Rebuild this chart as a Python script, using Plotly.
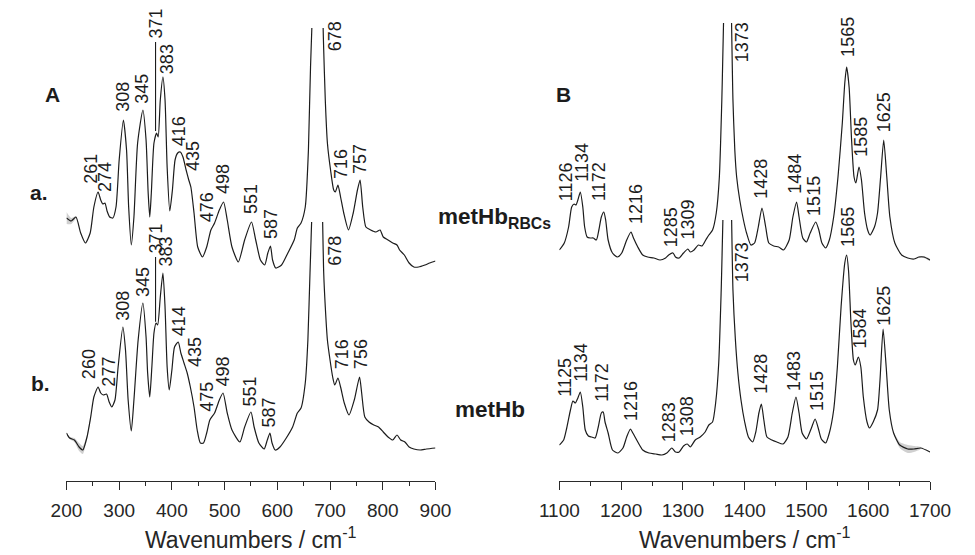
import plotly.graph_objects as go
import numpy as np

# ---------------- data (wavenumber cm-1, relative intensity) ----------------
# Panel A, trace a (metHb RBCs)
A_a = [(200,57),(209,54),(218,58),(227,42),(236,32),(245,42),(252,68),(260,83),(265,75),(269,71),
       (273,72),(277,64),(282,58),(288,57),(294,68),(300,115),(308,155),(314,125),(318,68),(323,30),
       (328,58),(335,132),(345,165),(351,135),(355,82),(358,58),(361,82),(366,132),(371,142),(374,138),
       (378,175),(383,198),(387,175),(391,108),(396,64),(401,85),(406,115),(411,122),(416,123),(421,118),
       (427,105),(432,95),(436,88),(442,62),(449,28),(458,18),(466,28),(474,45),(481,52),(490,65),
       (498,73),(505,55),(514,28),(526,13),(538,35),(551,53),(559,35),(568,15),(576,10),(582,22),
       (587,29),(591,15),(597,7),(608,10),(620,22),(632,35),(638,47),(645,52),(653,68),(659,125),
       (663,208),(678,400),(688,225),(691,175),(695,132),(701,105),(707,85),(710,83),(715,90),(720,78),
       (726,62),(735,45),(744,62),(752,85),(757,95),(762,68),(768,48),(777,45),(787,43),(795,45),
       (801,38),(810,35),(819,32),(827,30),(832,25),(841,20),(850,12),(859,8),(868,8),(880,10),
       (889,12),(900,14)]

# Panel A, trace b (metHb)
A_b = [(200,27),(206,22),(215,20),(224,13),(231,10),(239,23),(246,43),(252,63),(260,73),(265,67),
       (270,65),(276,66),(281,58),(286,53),(292,60),(298,93),(307,133),(312,110),(317,60),(323,29),
       (328,60),(336,120),(345,157),(351,123),(354,87),(358,63),(362,93),(366,127),(370,137),(373,135),
       (378,163),(383,187),(387,153),(391,93),(395,70),(400,90),(405,113),(412,118),(417,107),(423,97),
       (429,87),(435,73),(442,53),(448,30),(454,17),(460,17),(466,27),(472,40),(481,47),(490,60),
       (497,67),(505,47),(514,30),(529,18),(538,33),(550,48),(556,33),(565,17),(575,11),(581,20),
       (586,27),(590,17),(596,10),(605,13),(617,22),(629,33),(638,47),(645,52),(653,77),(658,120),
       (662,187),(678,420),(688,187),(691,153),(695,120),(700,100),(705,83),(709,75),(715,82),(720,73),
       (727,57),(736,45),(746,60),(756,83),(760,67),(766,43),(774,38),(783,35),(792,33),(801,28),
       (810,23),(819,20),(827,25),(834,20),(842,18),(850,13),(859,11),(871,10),(883,11),(900,12)]

# Panel B, trace a (metHb RBCs)
B_a = [(1100,15),(1108,22),(1115,38),(1120,58),(1124,61),(1127,60),(1130,65),(1134,73),(1138,58),(1141,38),
       (1145,28),(1150,27),(1155,27),(1160,25),(1164,35),(1168,48),(1172,53),(1175,45),(1179,25),(1186,12),
       (1194,8),(1201,12),(1209,25),(1216,33),(1220,27),(1227,18),(1235,10),(1243,8),(1253,7),(1263,5),
       (1272,7),(1277,10),(1284,12),(1288,8),(1294,7),(1301,12),(1308,16),(1312,13),(1318,15),(1325,20),
       (1331,19),(1337,25),(1342,30),(1348,35),(1354,52),(1359,88),(1363,165),(1373,420),(1381,165),(1384,115),
       (1387,88),(1392,65),(1398,45),(1403,32),(1410,20),(1416,22),(1422,38),(1428,57),(1434,38),(1439,22),
       (1447,19),(1455,18),(1463,15),(1472,25),(1478,48),(1484,63),(1488,48),(1494,27),(1500,23),(1506,32),
       (1515,43),(1520,35),(1525,22),(1531,17),(1537,25),(1544,48),(1551,88),(1558,142),(1562,182),(1565,198),
       (1569,178),(1573,125),(1577,88),(1580,82),(1585,98),(1589,85),(1594,52),(1599,35),(1603,30),(1610,38),
       (1615,52),(1620,88),(1625,125),(1630,88),(1635,48),(1643,22),(1654,10),(1664,7),(1674,6),(1682,8),
       (1690,8),(1700,5)]

# Panel B, trace b (metHb)
B_b = [(1100,15),(1107,20),(1112,32),(1118,50),(1122,59),(1126,57),(1130,62),(1134,68),(1138,53),(1142,30),
       (1147,24),(1152,23),(1158,22),(1163,33),(1168,47),(1171,48),(1174,38),(1179,27),(1186,10),(1195,7),
       (1203,12),(1209,23),(1215,31),(1219,27),(1227,18),(1235,10),(1245,7),(1256,6),(1266,5),(1274,7),
       (1282,12),(1288,8),(1294,8),(1301,14),(1307,16),(1312,13),(1320,20),(1328,23),(1336,28),(1342,35),
       (1348,38),(1353,57),(1358,97),(1362,170),(1373,430),(1381,170),(1385,120),(1389,87),(1394,60),(1400,38),
       (1406,23),(1413,18),(1418,28),(1423,47),(1427,56),(1431,40),(1436,23),(1444,20),(1452,18),(1462,16),
       (1470,23),(1477,47),(1483,63),(1488,47),(1493,27),(1500,21),(1508,32),(1514,41),(1519,32),(1524,21),
       (1531,17),(1537,27),(1544,50),(1550,93),(1556,153),(1562,197),(1565,205),(1568,190),(1572,137),(1576,100),
       (1579,95),(1584,103),(1588,93),(1592,63),(1598,38),(1602,32),(1608,38),(1615,50),(1619,80),(1624,131),
       (1629,93),(1634,50),(1641,27),(1651,15),(1664,11),(1674,11),(1685,12),(1700,8)]

# standard-deviation band (wavenumber, sd) where the spread is visible
A_a_sd = [(200,6),(209,3),(218,1)]
A_b_sd = [(200,1),(206,1),(215,2),(224,4),(231,4),(239,2),(246,1)]
B_a_sd = [(1682,1),(1690,1),(1700,1)]
B_b_sd = [(1641,1),(1651,3),(1664,4),(1674,3),(1685,1)]

# peak labels (text) for each trace
A_a_labels = ["261","274","308","345","371","383","416","435","476","498","551","587","678","716","757"]
A_b_labels = ["260","277","308","345","371","383","414","435","475","498","551","587","678","716","756"]
B_a_labels = ["1126","1134","1172","1216","1285","1309","1373","1428","1484","1515","1565","1585","1625"]
B_b_labels = ["1125","1134","1172","1216","1283","1308","1373","1428","1483","1515","1565","1584","1625"]

AXIS_TITLE = "Wavenumbers / cm<sup>-1</sup>"

# ---------------- label placement (layout) ----------------
A_a_pos = [(246,90),(273,82),(307,162),(343,170),(369,235),(391,200),(414,128),(440,103),(467,52),
           (497,80),(550,60),(588,35),(710,223),(721,95),(757,100)]
A_b_pos = [(243,80),(280,72),(307,138),(345,162),(369,205),(388,192),(414,123),(444,92),(466,47),
           (496,72),(549,53),(585,32),(709,193),(723,90),(759,90)]
B_a_pos = [(1112,63),(1137,82),(1165,63),(1224,40),(1281,17),(1309,25),(1396,202),(1426,65),(1481,70),
           (1512,48),(1567,207),(1588,107),(1626,132)]
B_b_pos = [(1108,62),(1134,77),(1168,57),(1216,38),(1278,17),(1307,23),(1396,177),(1426,65),(1480,68),
           (1517,48),(1567,212),(1586,110),(1625,133)]

FONT = "Liberation Sans, Arial, sans-serif"
LINE = "#1c1c1c"
TXT = "#1c1c1c"

W, H = 975, 555
PLOT_BOTTOM = 481  # pixel row of the x axis line


def unzip(pairs):
    x, y = zip(*pairs)
    return list(x), list(y)


fig = go.Figure()
series = [(A_a, A_a_sd, 'x', 'y2'), (A_b, A_b_sd, 'x', 'y'), (B_a, B_a_sd, 'x2', 'y4'), (B_b, B_b_sd, 'x2', 'y3')]
for pairs, sd, xa, ya in series:
    lookup = dict(pairs)
    bx = [w for w, _ in sd]
    up = [lookup[w] + s for w, s in sd]
    lo = [lookup[w] - s for w, s in sd]
    fig.add_trace(go.Scatter(x=bx + bx[::-1], y=up + lo[::-1], xaxis=xa, yaxis=ya, mode='lines',
                             fill='toself', fillcolor='rgba(150,150,150,0.45)',
                             line=dict(width=0, shape='spline', smoothing=0.6),
                             hoverinfo='skip', showlegend=False))
for pairs, sd, xa, ya in series:
    x, y = unzip(pairs)
    fig.add_trace(go.Scatter(x=x, y=y, xaxis=xa, yaxis=ya, mode='lines',
                             line=dict(color=LINE, width=1.2, shape='spline', smoothing=0.6),
                             hoverinfo='skip', showlegend=False))

annotations = []
for labels, pos, xr, yr in [(A_a_labels, A_a_pos, 'x', 'y2'), (A_b_labels, A_b_pos, 'x', 'y'),
                            (B_a_labels, B_a_pos, 'x2', 'y4'), (B_b_labels, B_b_pos, 'x2', 'y3')]:
    for t, (px, py) in zip(labels, pos):
        annotations.append(dict(text=t, x=px, y=py, xref=xr, yref=yr, textangle=-90,
                                showarrow=False, xanchor='center', yanchor='bottom',
                                borderpad=0, font=dict(size=18, family=FONT, color=TXT)))

# leader lines for the 371 labels
shapes = []
for pairs, pos, labels, yr in [(A_a, A_a_pos, A_a_labels, 'y2'), (A_b, A_b_pos, A_b_labels, 'y')]:
    x, y = unzip(pairs)
    i = labels.index("371")
    lx, ly = pos[i]
    y0 = float(np.interp(371, x, y)) + 2
    shapes.append(dict(type='line', xref='x', yref=yr, x0=lx, x1=lx, y0=y0, y1=ly - 2,
                       line=dict(color=LINE, width=1.1)))


def px_to_paper_y(py):
    return (PLOT_BOTTOM - py) / PLOT_BOTTOM


bold = [("<b>A</b>", 33.5, 95, 'center', 21), ("<b>B</b>", 567.5, 95, 'center', 21),
        ("<b>a.</b>", 20, 193, 'center', 21), ("<b>b.</b>", 21, 383, 'center', 21),
        ("<b>metHb<sub>RBCs</sub></b>", 434, 218, 'left', 22.5), ("<b>metHb</b>", 452, 410, 'left', 22.5)]
for t, bx, by, xa, fs in bold:
    annotations.append(dict(text=t, x=bx / W, y=px_to_paper_y(by), xref='paper', yref='paper',
                            showarrow=False, xanchor=xa, yanchor='middle',
                            font=dict(size=fs, family=FONT, color=TXT)))

# x-axis titles, placed just above the bottom edge
for xr in ['x domain', 'x2 domain']:
    annotations.append(dict(text=AXIS_TITLE, x=0.5, y=px_to_paper_y(554), xref=xr, yref='paper',
                            showarrow=False, xanchor='center', yanchor='bottom', borderpad=0,
                            font=dict(size=23, family=FONT, color="#262626")))

xcommon = dict(showline=True, linecolor="#2a2a2a", linewidth=1.3, showgrid=False, zeroline=False,
               ticks='outside', ticklen=8, tickwidth=1.3, tickcolor="#2a2a2a", tickmode='linear',
               dtick=100, tickfont=dict(size=19, family=FONT, color="#262626"), ticklabelstandoff=4,
               minor=dict(ticks='outside', dtick=50, ticklen=4, tickwidth=1.3, tickcolor="#2a2a2a",
                          showgrid=False))

fig.update_layout(
    width=W, height=H, autosize=False,
    margin=dict(l=0, r=0, t=0, b=H - PLOT_BOTTOM),
    paper_bgcolor='white', plot_bgcolor='rgba(0,0,0,0)',
    xaxis=dict(xcommon, domain=[48.5 / W, 433.7 / W], range=[200, 900], tick0=200, anchor='y'),
    xaxis2=dict(xcommon, domain=[563 / W, 950 / W], range=[1100, 1700], tick0=1100, anchor='y3'),
    yaxis=dict(domain=[0, (PLOT_BOTTOM - 222) / PLOT_BOTTOM], range=[-21, 238], anchor='x', visible=False),
    yaxis2=dict(domain=[0, (PLOT_BOTTOM - 28) / PLOT_BOTTOM], range=[-206, 247], anchor='x', visible=False),
    yaxis3=dict(domain=[0, (PLOT_BOTTOM - 220) / PLOT_BOTTOM], range=[-21, 240], anchor='x2', visible=False),
    yaxis4=dict(domain=[0, (PLOT_BOTTOM - 23) / PLOT_BOTTOM], range=[-216, 242], anchor='x2', visible=False),
    annotations=annotations, shapes=shapes, showlegend=False, hovermode=False,
)

# remove the browser's default page margin so the figure sits at the window's top-left corner
fig.write_html("out.html", config={'displayModeBar': False},
               post_script="document.body.style.margin='0px';")
